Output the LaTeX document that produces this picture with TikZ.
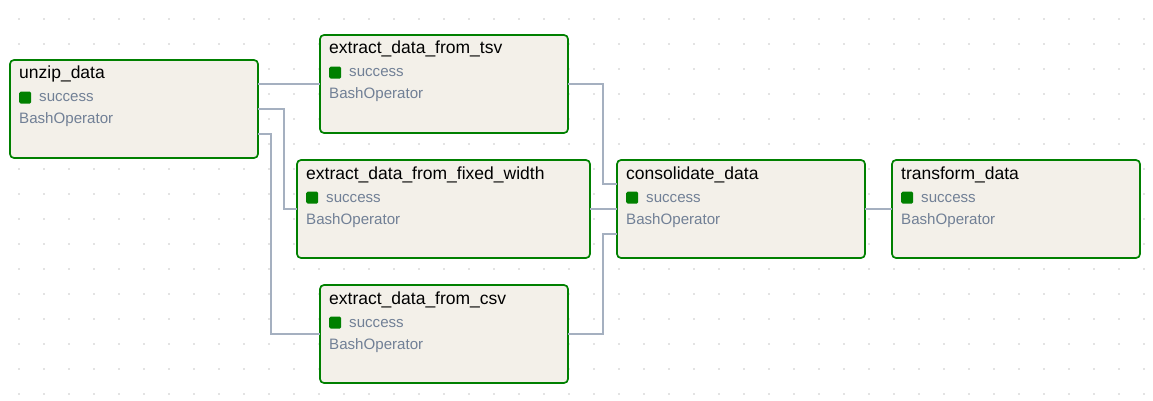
\documentclass[tikz,border=0pt]{standalone}
\usepackage{fontspec}
\setmainfont{Liberation Sans}
\usetikzlibrary{positioning}

\definecolor{agreen}{HTML}{008000}
\definecolor{afill}{HTML}{F3F0E9}
\definecolor{agray}{HTML}{718096}
\definecolor{aedge}{HTML}{A5B0C0}
\definecolor{adot}{HTML}{C8C8C8}

\tikzset{
  taskbox/.style={draw=agreen, fill=afill, line width=1.7pt, rounded corners=4pt,
    anchor=north west, outer sep=0pt, inner sep=0pt, minimum height=98pt},
  tasktitle/.style={anchor=base west, inner sep=0pt, font=\fontsize{17.5}{19}\selectfont},
  taskinfo/.style={anchor=base west, inner sep=0pt, text=agray, font=\fontsize{15.1}{17}\selectfont},
  statebox/.style={fill=agreen, rounded corners=1.5pt, anchor=north west, inner sep=0pt,
    minimum size=12pt},
  edge/.style={draw=aedge, line width=2pt}
}

% one task: name, x, y, width, label
\newcommand{\task}[5]{%
  \node[taskbox, minimum width=#4pt] (#1) at (#2,#3) {};
  \node[tasktitle] (#1T) at ([xshift=9pt,yshift=-19pt]#1.north west) {#5};
  \node[statebox] (#1S) at ([xshift=9pt,yshift=-31.5pt]#1.north west) {};
  \node[taskinfo] (#1I) at ([xshift=29pt,yshift=-42pt]#1.north west) {success};
  \node[taskinfo] (#1O) at ([xshift=9pt,yshift=-64pt]#1.north west) {BashOperator};
}

\begin{document}
\begin{tikzpicture}[x=1pt, y=-1pt]
  \useasboundingbox[fill=white] (0,0) rectangle (1153,401);

  % dotted background
  \foreach \i in {0,...,45}
    \foreach \j in {0,...,15}
      \fill[adot] (19+25*\i,19+25*\j) circle (0.9pt);

  \task{unzip}{10}{60}{248}{unzip\_data}
  \task{tsv}{320}{35}{248}{extract\_data\_from\_tsv}
  \task{fixed}{297}{160}{293}{extract\_data\_from\_fixed\_width}
  \task{csv}{320}{285}{248}{extract\_data\_from\_csv}
  \task{cons}{617}{160}{248}{consolidate\_data}
  \task{trans}{892}{160}{248}{transform\_data}

  % connectors
  \draw[edge] ([yshift=25pt]unzip.east) -- (tsv.west);
  \draw[edge] (unzip.east) -- ++(26,0) |- (fixed.west);
  \draw[edge] ([yshift=-25pt]unzip.east) -- ++(13,0) |- (csv.west);
  \draw[edge] (tsv.east) -- ++(35,0) |- ([yshift=25pt]cons.west);
  \draw[edge] (fixed.east) -- (cons.west);
  \draw[edge] (csv.east) -- ++(35,0) |- ([yshift=-25pt]cons.west);
  \draw[edge] (cons.east) -- (trans.west);
\end{tikzpicture}
\end{document}
